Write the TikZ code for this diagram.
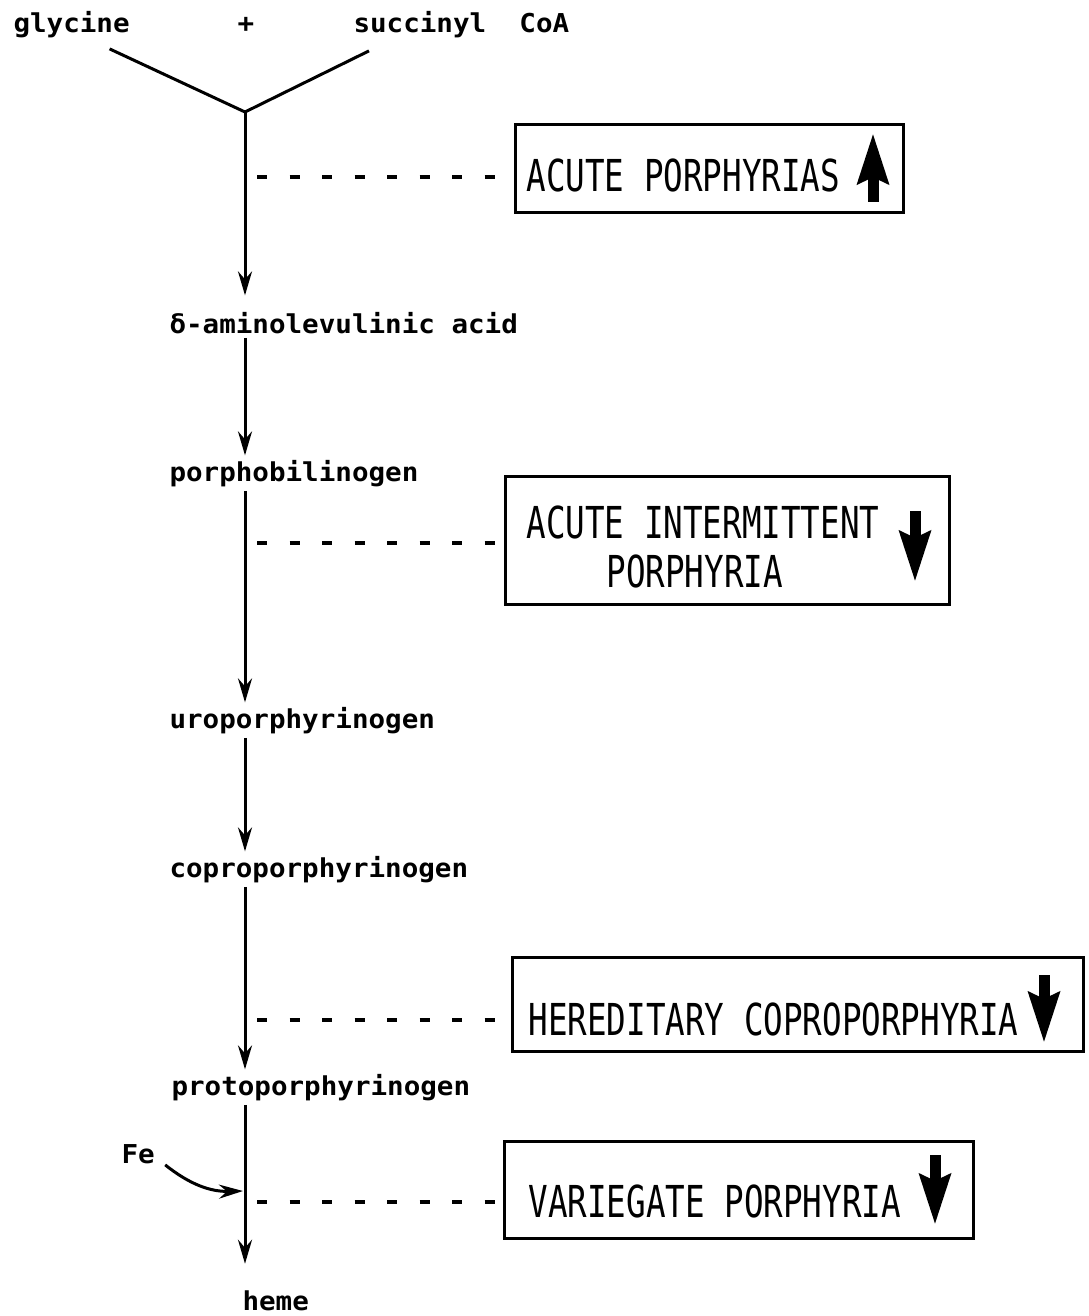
\documentclass[tikz,border=0pt]{standalone}
\usepackage{fontspec}
\newfontfamily\pathfont{DejaVu Sans Mono}[FakeStretch=1.06]
\newfontfamily\boxfont{DejaVu Sans Mono}[FakeStretch=0.74]
\usetikzlibrary{arrows.meta,positioning}

\begin{document}
\begin{tikzpicture}[x=0.5pt,y=-0.5pt]
    \tikzstyle{every path}=[line width=1.5pt]
    \tikzstyle{cmpd}=[font={\pathfont\bfseries\fontsize{13}{15}\selectfont},inner sep=1.5pt,anchor=base west]
    \tikzstyle{rxn}=[-{Stealth[length=12pt,width=7pt,inset=4pt]}]
    \tikzstyle{link}=[dash pattern=on 5pt off 11.25pt,line width=1.8pt]
    \tikzstyle{dbox}=[draw,line width=1.4pt,anchor=north west,inner sep=0pt]
    \tikzstyle{dtext}=[font={\boxfont\fontsize{22}{26}\selectfont},inner sep=0pt,anchor=base west]
    \tikzstyle{fat}=[line width=5.5pt,-{Stealth[length=25pt,width=15pt,inset=3pt]}]

    \useasboundingbox (0,0) rectangle (1088,1316);

    % substrates and intermediates
    \node[cmpd] (gly)   at (9,33)    {glycine};
    \node[cmpd] (plus)  at (233,33)  {+};
    \node[cmpd] (scoa)  at (349,33)  {succinyl\ \ CoA};
    \node[cmpd] (ala)   at (165,333) {δ-aminolevulinic acid};
    \node[cmpd] (pbg)   at (165,481) {porphobilinogen};
    \node[cmpd] (uro)   at (165,728) {uroporphyrinogen};
    \node[cmpd] (copro) at (165,877) {coproporphyrinogen};
    \node[cmpd] (proto) at (167,1095) {protoporphyrinogen};
    \node[cmpd] (heme)  at (238,1310) {heme};
    \node[cmpd] (fe)    at (117,1163) {Fe};

    \coordinate (j)    at (245,112);
    \coordinate (fein) at (243,1191);

    \draw ([shift={(38,6)}]gly.south) -- (j) -- ([shift={(20,8)}]scoa.south west);
    \draw[rxn,shorten >=6pt] (j) -- (j |- ala.north);
    \draw[rxn] (ala.south -| j)   -- (pbg.north -| j);
    \draw[rxn] (pbg.south -| j)   -- (uro.north -| j);
    \draw[rxn] (uro.south -| j)   -- (copro.north -| j);
    \draw[rxn] (copro.south -| j) -- (proto.north -| j);
    \draw[rxn,shorten >=11pt] (proto.south -| j) -- (heme.north -| j);
    \draw[rxn] ([shift={(6,-3)}]fe.south east) to[bend right=20] (fein);

    % disease boxes
    \node[dbox,minimum width=194pt,minimum height=44pt]    (acute) at (514,123)  {};
    \node[dbox,minimum width=222pt,minimum height=64pt]    (aip)   at (504,475)  {};
    \node[dbox,minimum width=285.5pt,minimum height=47pt]  (hcp)   at (511,956)  {};
    \node[dbox,minimum width=234.5pt,minimum height=48.5pt] (vp)   at (503,1140) {};

    \node[dtext] (acutet) at (525,192)  {ACUTE PORPHYRIAS};
    \node[dtext] (aipa)   at (525,538)  {ACUTE INTERMITTENT};
    \node[dtext] (aipb)   at (605,587)  {PORPHYRIA};
    \node[dtext] (hcpt)   at (527,1035) {HEREDITARY COPROPORPHYRIA};
    \node[dtext] (vpt)    at (527,1217) {VARIEGATE PORPHYRIA};

    \draw[fat] (873,202)  -- (873,133);
    \draw[fat] (915,511)  -- (915,582);
    \draw[fat] (1044,975) -- (1044,1043);
    \draw[fat] (935,1155) -- (935,1225);

    % dashed links to the blocked steps
    \coordinate (d1) at (257,177);
    \coordinate (d2) at (257,543);
    \coordinate (d3) at (257,1020);
    \coordinate (d4) at (257,1202);
    \draw[link] (d1) -- (d1 -| acute.west);
    \draw[link] (d2) -- (d2 -| aip.west);
    \draw[link] (d3) -- (d3 -| hcp.west);
    \draw[link] (d4) -- (d4 -| vp.west);
\end{tikzpicture}
\end{document}
